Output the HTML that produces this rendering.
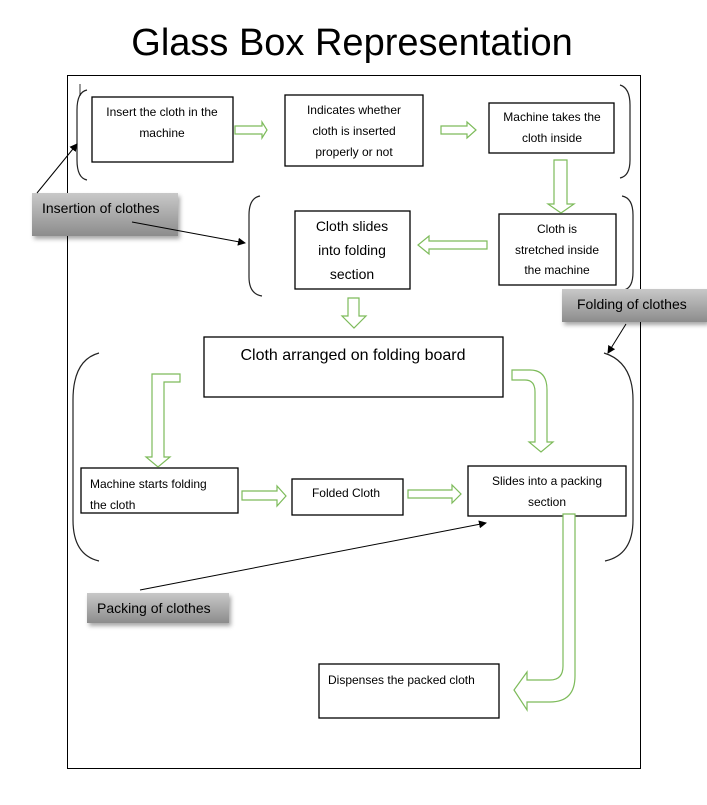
<!DOCTYPE html>
<html><head><style>body{margin:0;background:#fff}svg{display:block}</style></head><body>
<svg width="707" height="805" viewBox="0 0 707 805" xmlns="http://www.w3.org/2000/svg" font-family="Liberation Sans, sans-serif">
<defs>
<marker id="ah" markerWidth="8" markerHeight="8" refX="7" refY="4" orient="auto" markerUnits="userSpaceOnUse"><path d="M0,0 L8,4 L0,8z" fill="#000"/></marker>
<linearGradient id="g" x1="0" y1="0" x2="0" y2="1"><stop offset="0" stop-color="#c8c8c8"/><stop offset="1" stop-color="#8c8c8c"/></linearGradient>
<filter id="sh"><feDropShadow dx="2" dy="3" stdDeviation="2" flood-opacity="0.35"/></filter>
</defs>
<text x="352" y="55" font-size="38" text-anchor="middle" fill="#000">Glass Box Representation</text>
<rect x="67.5" y="75.5" width="573" height="693" fill="none" stroke="#000"/>
<g fill="none" stroke="#222" stroke-width="1.2">
<path d="M87,90 Q77,92 77,110 L77,160 Q77,178 87,180"/>
<path d="M620,85 Q630,88 630,105 L630,160 Q630,176 620,178"/>
<path d="M260,196 Q249,198 249,215 L249,277 Q249,294 262,296"/>
<path d="M622,196 Q633,198 633,215 L633,272 Q633,288 624,290"/>
<path d="M99,353 Q73,360 73,400 L73,520 Q73,555 99,561"/>
<path d="M604,353 Q633,362 633,400 L633,520 Q633,555 605,561"/>
</g>
<g fill="#fff" stroke="#000" stroke-width="1.3">
<rect x="92" y="97" width="141" height="65"/>
<rect x="285" y="95" width="138" height="71"/>
<rect x="489" y="103" width="125" height="50"/>
<rect x="499" y="214" width="117" height="71"/>
<rect x="295" y="211" width="115" height="78"/>
<rect x="204" y="337" width="299" height="60"/>
<rect x="81" y="468" width="157" height="45"/>
<rect x="292" y="479" width="111" height="36"/>
<rect x="468" y="466" width="158" height="50"/>
<rect x="319" y="664" width="180" height="54"/>
</g>
<g font-size="12" fill="#000" text-anchor="middle">
<text x="162" y="116">Insert the cloth in the</text><text x="162" y="137">machine</text>
<text x="354" y="114">Indicates whether</text><text x="354" y="135">cloth is inserted</text><text x="354" y="156">properly or not</text>
<text x="552" y="121">Machine takes the</text><text x="552" y="142">cloth inside</text>
<text x="557" y="233">Cloth is</text><text x="557" y="254">stretched inside</text><text x="557" y="274">the machine</text>
<text x="352" y="231" font-size="14">Cloth slides</text><text x="352" y="255" font-size="14">into folding</text><text x="352" y="279" font-size="14">section</text>
<text x="353" y="360" font-size="16">Cloth arranged on folding board</text>
<text x="90" y="488" text-anchor="start">Machine starts folding</text><text x="90" y="509" text-anchor="start">the cloth</text>
<text x="346" y="497">Folded Cloth</text>
<text x="547" y="485">Slides into a packing</text><text x="547" y="506">section</text>
<text x="328" y="684" text-anchor="start">Dispenses the packed cloth</text>
</g>
<g filter="url(#sh)">
<rect x="32" y="193" width="146" height="43" fill="url(#g)"/>
<rect x="562" y="289" width="145" height="33" fill="url(#g)"/>
<rect x="87" y="593" width="142" height="30" fill="url(#g)"/>
</g>
<g font-size="14" fill="#000">
<text x="42" y="213">Insertion of clothes</text>
<text x="577" y="309">Folding of clothes</text>
<text x="97" y="613">Packing of  clothes</text>
</g>
<g fill="none" stroke="#000" stroke-width="1">
<line x1="37" y1="193" x2="77" y2="144" marker-end="url(#ah)"/>
<line x1="132" y1="222" x2="245" y2="243" marker-end="url(#ah)"/>
<line x1="626" y1="324" x2="608" y2="353" marker-end="url(#ah)"/>
<line x1="140" y1="590" x2="486" y2="523" marker-end="url(#ah)"/>
</g>
<g fill="#fff" stroke="#7dbb5a" stroke-width="1.2">
<path d="M235,126 L262,126 L262,122 L267,130 L262,138 L262,134 L235,134Z"/>
<path d="M441,126 L467,126 L467,122 L476,130 L467,138 L467,134 L441,134Z"/>
<path d="M554,160 L567,160 L567,204 L574,204 L561,213 L548,204 L554,204Z"/>
<path d="M487,241 L429,241 L429,236 L418,245 L429,254 L429,249 L487,249Z"/>
<path d="M348,298 L359,298 L359,316 L366,316 L354,328 L342,316 L348,316Z"/>
<path d="M170,374 L142,374 L142,457 L136,457 L148,467 L160,457 L154,457 L154,382 L170,382Z" transform="translate(10,0)"/>
<path d="M512,370 L530,370 Q547,370 547,390 L547,442 L553,442 L541,452 L529,442 L535,442 L535,392 Q535,380 525,380 L512,380Z"/>
<path d="M242,491 L277,491 L277,486 L286,496 L277,506 L277,500 L242,500Z"/>
<path d="M408,490 L452,490 L452,485 L461,494 L452,503 L452,498 L408,498Z"/>
<path d="M563,518 L575,518 L575,680 Q575,706 550,706 L527,706 L527,714 L514,694 L527,676 L527,684 L550,684 Q563,684 563,670Z" transform="translate(0,-4)"/>
</g>
<line x1="80" y1="84" x2="80" y2="96" stroke="#000" stroke-width="0.8"/>
</svg>
</body></html>
